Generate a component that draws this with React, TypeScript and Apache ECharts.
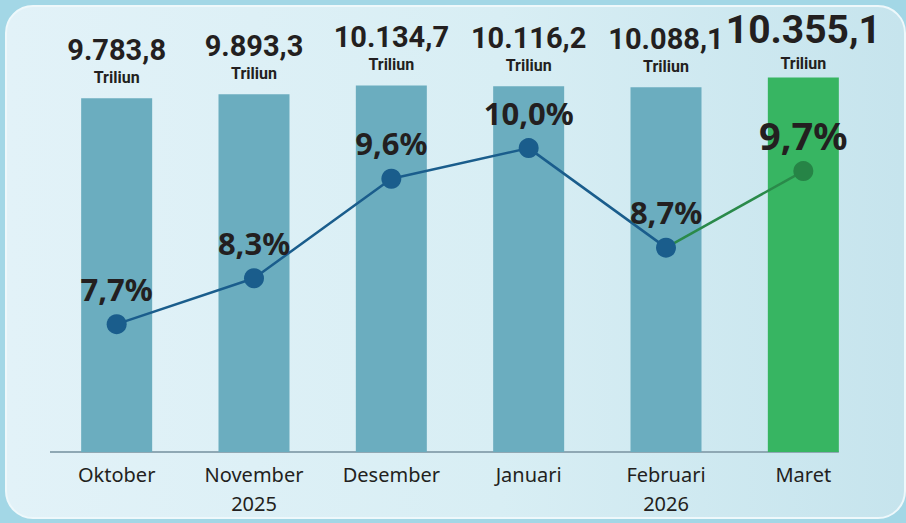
import React, { useEffect, useRef } from "react";
import * as echarts from "echarts";

const categories = ["Oktober", "November\n2025", "Desember", "Januari", "Februari\n2026", "Maret"];
const totals = [9783.8, 9893.3, 10134.7, 10116.2, 10088.1, 10355.1];
const growth = [7.7, 8.3, 9.6, 10.0, 8.7, 9.7];
const unitLabel = "Triliun";

const FONT = "'Noto Sans', 'Open Sans', sans-serif";
const FONT_TOP = "Roboto, 'Noto Sans', sans-serif";
const TEXT = "#231f20";
const BAR = "#6badbf";
const BAR_HL = "#37b562";
const LINE = "#1a5d8c";
const LINE_HL = "#2a8a4a";
const MARK_HL = "#268446";

function fmtNum(v: number): string {
  const [i, d] = v.toFixed(1).split(".");
  return i.replace(/\B(?=(\d{3})+(?!\d))/g, ".") + "," + d;
}
function fmtPct(v: number): string {
  return v.toFixed(1).replace(".", ",") + "%";
}

export default function App() {
  const ref = useRef<HTMLDivElement>(null);
  useEffect(() => {
    if (!ref.current) return;
    const chart = echarts.init(ref.current, null, { renderer: "svg" });
    const last = categories.length - 1;

    const barData = totals.map((v, i) => {
      const hl = i === last;
      return {
        value: v,
        itemStyle: { color: hl ? BAR_HL : BAR },
        label: {
          distance: hl ? 4 : 11,
          formatter: () => `{${hl ? "V" : "v"}|${fmtNum(v)}}\n{t|${unitLabel}}`,
        },
      };
    });

    const lineMain = growth.map((v, i) => (i === last ? "-" : v));
    const lineHl = growth.map((v, i) =>
      i === last - 1 ? { value: v, symbol: "none", label: { show: false } } : i === last ? v : "-"
    );

    chart.setOption({
      animation: false,
      grid: { left: 48, right: 34, top: 18, bottom: 71 },
      xAxis: {
        type: "category",
        data: categories,
        axisLine: { show: false },
        axisTick: { show: false },
        axisLabel: {
          color: TEXT,
          fontFamily: FONT,
          fontSize: 20,
          lineHeight: 29,
          margin: 8,
        },
      },
      yAxis: [
        { type: "value", min: 0, max: 12000, show: false },
        { type: "value", min: 6.03, max: 11.7, show: false },
      ],
      series: [
        {
          type: "bar",
          data: barData,
          barWidth: 71,
          label: {
            show: true,
            position: "top",
            fontFamily: FONT_TOP,
            color: TEXT,
            rich: {
              v: { fontSize: 29, fontWeight: "bold", fontFamily: FONT_TOP, color: TEXT, lineHeight: 34 },
              V: { fontSize: 39, fontWeight: "bold", fontFamily: FONT_TOP, color: TEXT, lineHeight: 46 },
              t: { fontSize: 16, fontWeight: "bold", fontFamily: FONT_TOP, color: TEXT, lineHeight: 20 },
            },
          },
          z: 1,
        },
        {
          type: "line",
          yAxisIndex: 1,
          data: lineHl,
          symbol: "circle",
          symbolSize: 20,
          lineStyle: { color: LINE_HL, width: 2.5 },
          itemStyle: { color: MARK_HL },
          label: {
            show: true,
            position: "top",
            distance: 7,
            formatter: (p: any) => fmtPct(p.value),
            fontFamily: FONT,
            fontSize: 38,
            fontWeight: "bold",
            color: TEXT,
          },
          z: 3,
        },
        {
          type: "line",
          yAxisIndex: 1,
          data: lineMain,
          symbol: "circle",
          symbolSize: 20,
          lineStyle: { color: LINE, width: 2.5 },
          itemStyle: { color: LINE },
          label: {
            show: true,
            position: "top",
            distance: 10,
            formatter: (p: any) => fmtPct(p.value),
            fontFamily: FONT,
            fontSize: 31,
            fontWeight: "bold",
            color: TEXT,
          },
          z: 4,
        },
      ],
    });

    // baseline under the bars: from grid left to right edge of last bar
    const xFirst = chart.convertToPixel({ xAxisIndex: 0 }, 0) as number;
    const xLast = chart.convertToPixel({ xAxisIndex: 0 }, last) as number;
    const y0 = chart.convertToPixel({ yAxisIndex: 0 }, 0) as number;
    const step = (xLast - xFirst) / last;
    chart.setOption({
      graphic: [
        {
          type: "line",
          shape: { x1: xFirst - step / 2 + 2, y1: y0, x2: xLast + 35.5, y2: y0 },
          style: { stroke: "#8fa8b4", lineWidth: 2 },
          z: 0,
        },
      ],
    });

    return () => chart.dispose();
  }, []);

  return (
    <div
      style={{
        position: "fixed",
        left: 0,
        top: 0,
        width: 906,
        height: 523,
        background: "#a3d7e6",
        overflow: "hidden",
      }}
    >
      <div
        style={{
          position: "absolute",
          left: 5,
          top: 5,
          width: 897,
          height: 510,
          borderRadius: 28,
          border: "2px solid #eef8fb",
          background: "linear-gradient(to right, #e2f2f8 0%, #d8eef4 55%, #c6e4ed 100%)",
        }}
      />
      <div ref={ref} style={{ position: "absolute", left: 0, top: 0, width: 906, height: 523 }} />
    </div>
  );
}
